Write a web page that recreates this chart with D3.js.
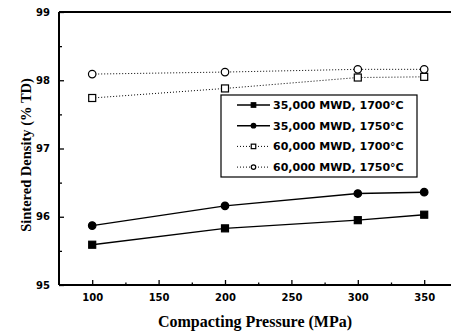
<!DOCTYPE html>
<html><head><meta charset="utf-8">
<script src="https://cdn.jsdelivr.net/npm/d3@7"></script>
<style>body{margin:0;background:#fff;} svg{display:block;}</style>
</head><body>
<svg id="c" width="451" height="336"></svg>
<script>
const pressures = [100, 200, 300, 350];
const s35_1700 = [95.59, 95.83, 95.95, 96.03];
const s35_1750 = [95.87, 96.16, 96.34, 96.36];
const s60_1700 = [97.74, 97.88, 98.04, 98.05];
const s60_1750 = [98.09, 98.12, 98.16, 98.16];
const seriesNames = ["35,000 MWD, 1700°C", "35,000 MWD, 1750°C", "60,000 MWD, 1700°C", "60,000 MWD, 1750°C"];
const xTicks = [100, 150, 200, 250, 300, 350];
const yTicks = [95, 96, 97, 98, 99];
const xTitle = "Compacting Pressure (MPa)";
const yTitle = "Sintered Density (% TD)";

const series = [
  {name: seriesNames[0], vals: s35_1700, shape: "square", fill: true, dash: null},
  {name: seriesNames[1], vals: s35_1750, shape: "circle", fill: true, dash: null},
  {name: seriesNames[2], vals: s60_1700, shape: "square", fill: false, dash: "1,2"},
  {name: seriesNames[3], vals: s60_1750, shape: "circle", fill: false, dash: "1,2"}
];

const svg = d3.select("#c");
const L = 59, T = 12, B = 285;
const x = d3.scaleLinear().domain([75, 375]).range([L, L + 300 * 1.328]);
const y = d3.scaleLinear().domain([95, 99]).range([B, T]);

svg.append("line").attr("x1", L).attr("x2", 451).attr("y1", T).attr("y2", T).attr("stroke", "#000").attr("stroke-width", 2);

const tickFont = "DejaVu Sans, sans-serif";
const gx = svg.append("g").attr("transform", `translate(0,${B})`)
  .call(d3.axisBottom(x).tickValues(xTicks).tickSize(-5).tickPadding(9).tickFormat(d3.format("d")));
const gxm = svg.append("g").attr("transform", `translate(0,${B})`)
  .call(d3.axisBottom(x).tickValues([125, 175, 225, 275, 325, 375]).tickSize(-2.5).tickFormat(""));
const gy = svg.append("g").attr("transform", `translate(${L},0)`)
  .call(d3.axisLeft(y).tickValues(yTicks).tickSize(-5).tickPadding(9).tickFormat(d3.format("d")));
const gym = svg.append("g").attr("transform", `translate(${L},0)`)
  .call(d3.axisLeft(y).tickValues([95.5, 96.5, 97.5, 98.5]).tickSize(-3).tickFormat(""));
[gx, gxm, gy, gym].forEach(g => {
  g.select(".domain").attr("stroke", "#000").attr("stroke-width", 2);
  g.selectAll(".tick line").attr("stroke", "#000").attr("stroke-width", 1.3);
  g.selectAll("text").attr("font-family", tickFont).attr("font-weight", "bold").attr("font-size", 10).attr("fill", "#000");
});
gxm.select(".domain").remove(); gym.select(".domain").remove();
gx.select(".domain").attr("d", `M${L},0H451`);
gy.select(".domain").attr("d", `M0,${T}V${B}`);

svg.append("text").attr("x", 255).attr("y", 327).attr("text-anchor", "middle")
  .attr("font-family", "Liberation Serif, Times New Roman, serif").attr("font-weight", "bold").attr("font-size", 16)
  .text(xTitle);
svg.append("text").attr("transform", "translate(31,155) rotate(-90)").attr("text-anchor", "middle")
  .attr("font-family", "Liberation Serif, Times New Roman, serif").attr("font-weight", "bold").attr("font-size", 14.5)
  .text(yTitle);

const line = d3.line().x((d, i) => x(pressures[i])).y(d => y(d));

function marker(g, shape, fill, cx, cy, size) {
  if (shape === "square") {
    g.append("rect").attr("x", cx - size / 2).attr("y", cy - size / 2).attr("width", size).attr("height", size)
      .attr("fill", fill ? "#000" : "#fff").attr("stroke", "#000").attr("stroke-width", 1.2);
  } else {
    g.append("circle").attr("cx", cx).attr("cy", cy).attr("r", size / 2)
      .attr("fill", fill ? "#000" : "#fff").attr("stroke", "#000").attr("stroke-width", 1.2);
  }
}

series.forEach(s => {
  const g = svg.append("g");
  g.append("path").attr("d", line(s.vals)).attr("fill", "none").attr("stroke", "#000")
    .attr("stroke-width", s.dash ? 1 : 1.4).attr("stroke-dasharray", s.dash);
  s.vals.forEach((v, i) => marker(g, s.shape, s.fill, x(pressures[i]), y(v), s.shape === "square" ? 7 : 7.5));
});

const lg = svg.append("g");
lg.append("rect").attr("x", 221).attr("y", 95).attr("width", 196).attr("height", 82)
  .attr("fill", "#fff").attr("stroke", "#000").attr("stroke-width", 1.2);
series.forEach((s, i) => {
  const yy = 105 + i * 20.7;
  lg.append("line").attr("x1", 237).attr("x2", 270).attr("y1", yy).attr("y2", yy).attr("stroke", "#000")
    .attr("stroke-width", s.dash ? 1 : 1.4).attr("stroke-dasharray", s.dash);
  marker(lg, s.shape, s.fill, 253.5, yy, 4.5);
  lg.append("text").attr("x", 273).attr("y", yy + 4).attr("font-family", tickFont).attr("font-weight", "bold")
    .attr("font-size", 11).attr("fill", "#000").text(s.name);
});
</script>
</body></html>
